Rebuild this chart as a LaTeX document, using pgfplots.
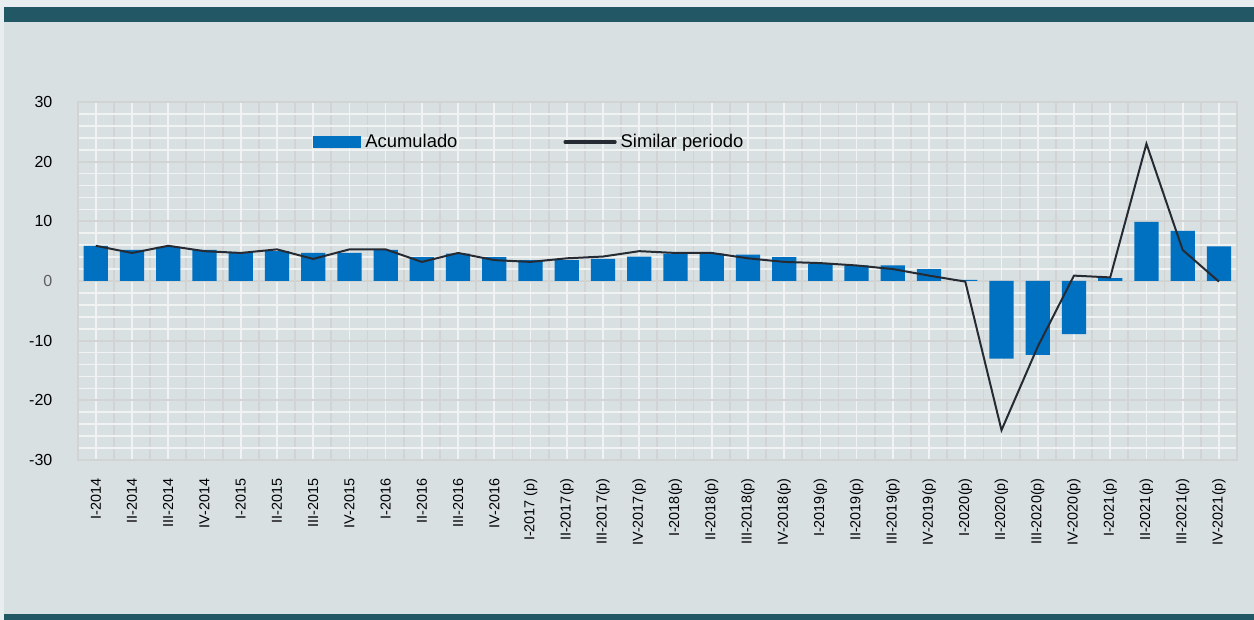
\documentclass[border=0pt]{standalone}
\usepackage{fontspec}
\setmainfont{Liberation Sans}
\usepackage{pgfplots}
\pgfplotsset{compat=1.18}
\definecolor{hdrteal}{HTML}{225866}
\definecolor{panel}{HTML}{D8E0E2}
\definecolor{outerbg}{HTML}{E8EDEF}
\definecolor{barblue}{HTML}{0070C0}
\definecolor{linedark}{HTML}{262B33}
\definecolor{gridwhite}{HTML}{F1F3F3}
\definecolor{gridgray}{HTML}{D2D3D3}
\definecolor{zerogray}{HTML}{5F5F5F}
\begin{document}
\begin{tikzpicture}[x=1pt,y=1pt]
\useasboundingbox (0,0) rectangle (627,310);
\fill[outerbg] (0,0) rectangle (627,310);
\fill[panel] (2,3) rectangle (627,299);
\fill[hdrteal] (2,299) rectangle (627,306.5);
\fill[hdrteal] (2,0) rectangle (627,3);
\begin{axis}[
  at={(38.85pt,80pt)}, anchor=south west,
  width=579.65pt, height=179pt, scale only axis,
  xmin=-0.5, xmax=31.5, ymin=-30, ymax=30,
  xtick={0,...,31},
  xticklabels={I-2014,II-2014,III-2014,IV-2014,I-2015,II-2015,III-2015,IV-2015,I-2016,II-2016,III-2016,IV-2016,I-2017 (p),II-2017(p),III-2017(p),IV-2017(p),I-2018(p),II-2018(p),III-2018(p),IV-2018(p),I-2019(p),II-2019(p),III-2019(p),IV-2019(p),I-2020(p),II-2020(p),III-2020(p),IV-2020(p),I-2021(p),II-2021(p),III-2021(p),IV-2021(p)},
  minor xtick={-0.5,0.5,...,31.5},
  ytick={-30,-20,...,30},
  yticklabels={-30,-20,-10,\textcolor{zerogray}{0},10,20,30},
  minor ytick={-28,-26,...,28},
  grid=both,
  major x grid style={draw=gridwhite, line width=0.85pt},
  minor x grid style={draw=gridgray, line width=0.9pt},
  minor y grid style={draw=gridwhite, line width=0.85pt},
  major y grid style={draw=gridgray, line width=0.9pt},
  axis line style={draw=gridgray, line width=0.9pt},
  major tick length=0pt, minor tick length=0pt,
  yticklabel style={font=\fontsize{8}{9}\selectfont, text=black, inner sep=0pt},
  xticklabel style={font=\fontsize{7.2}{9}\selectfont, text=black, rotate=90, anchor=east, inner sep=0pt},
  xticklabel shift=9pt,
  yticklabel shift=12.5pt,
  legend columns=2,
  legend style={at={(0.203,0.888)}, anchor=west, draw=none, fill=none, inner sep=0pt,
    font=\fontsize{9.2}{10}\selectfont,
    /tikz/every even column/.append style={column sep=51pt}},
]
\addplot[ybar, bar width=0.67, fill=barblue, draw=none,
  legend image code/.code={\fill[barblue] (0pt,-3pt) rectangle (24pt,3pt);}]
  table[x=i, y=v] {
i v
0 5.9
1 5.2
2 5.7
3 5.2
4 4.7
5 5.0
6 4.7
7 4.7
8 5.2
9 4.0
10 4.6
11 4.0
12 3.5
13 3.5
14 3.7
15 4.1
16 4.6
17 4.6
18 4.4
19 4.0
20 2.9
21 2.6
22 2.6
23 2.0
24 0.2
25 -13.0
26 -12.4
27 -8.9
28 0.5
29 9.9
30 8.4
31 5.8
};
\addlegendentry{Acumulado}
\addplot[sharp plot, no marks, draw=linedark, line width=1pt,
  legend image code/.code={\draw[linedark, line width=1.6pt, line cap=round] (0pt,0pt) -- (25pt,0pt);}]
  table[x=i, y=v] {
i v
0 5.9
1 4.7
2 5.9
3 5.0
4 4.7
5 5.3
6 3.7
7 5.3
8 5.3
9 3.2
10 4.7
11 3.5
12 3.2
13 3.8
14 4.1
15 5.0
16 4.7
17 4.7
18 3.8
19 3.2
20 3.0
21 2.6
22 2.0
23 0.9
24 -0.1
25 -25.0
26 -11.0
27 0.9
28 0.6
29 23.0
30 5.2
31 -0.1
};
\addlegendentry{Similar periodo}
\end{axis}
\end{tikzpicture}
\end{document}
